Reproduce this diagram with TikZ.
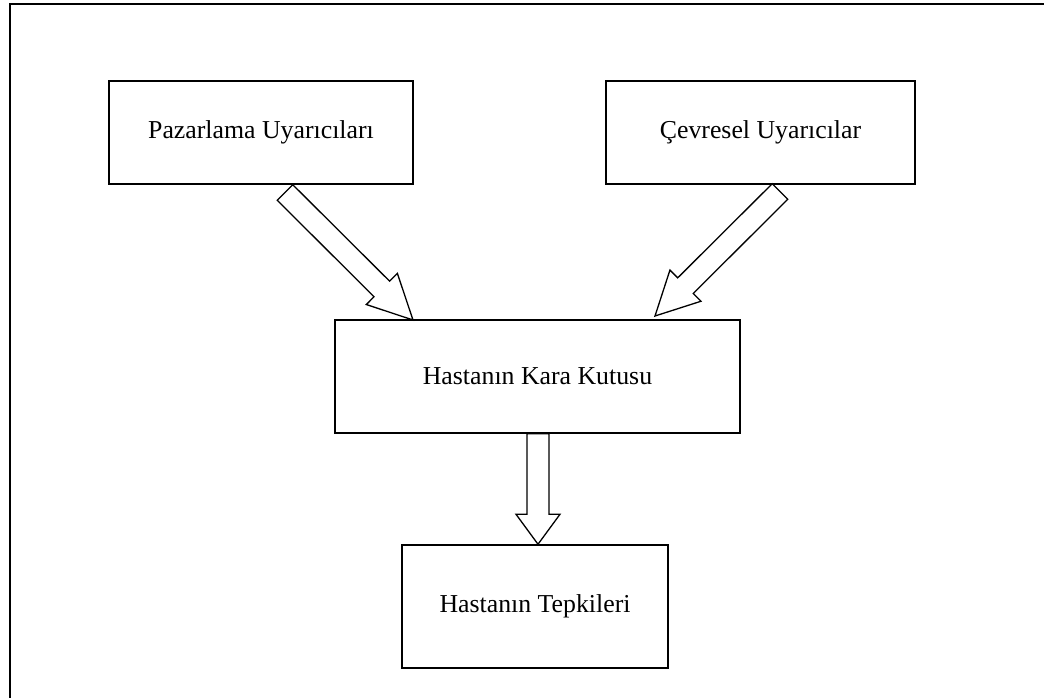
\documentclass[tikz,border=0pt]{standalone}
\usepackage{fontspec}
\setmainfont{Liberation Serif}
\usetikzlibrary{calc}

\tikzset{
  stagebox/.style={draw, line width=1.5pt, inner sep=0pt, font=\fontsize{25.8pt}{31pt}\selectfont},
  blockarrow/.style={draw, line width=1.3pt, fill=white, line join=miter},
  frameline/.style={line width=2.2pt}
}

% hollow block arrow: tail centre, tip, head length
\newcommand\hollowarrow[3]{%
  \coordinate (hb) at ($(#2)!#3!(#1)$);
  \draw[blockarrow]
    ($(#1)!11pt!90:(#2)$) -- ($(hb)!11pt!-90:(#1)$) -- ($(hb)!22pt!-90:(#1)$)
    -- (#2) -- ($(hb)!22pt!90:(#1)$) -- ($(hb)!11pt!90:(#1)$)
    -- ($(#1)!11pt!-90:(#2)$) -- cycle;}

\begin{document}
\begin{tikzpicture}[x=1pt, y=-1pt]
  \useasboundingbox (0,0) rectangle (1044,698);

  % outer frame (only top and left edges show)
  \draw[frameline] (1050,4) -- (10,4) -- (10,705);

  % stages
  \node[stagebox, minimum width=304pt, minimum height=103pt] (paz) at (261,132.5) {Pazarlama Uyarıcıları};
  \node[stagebox, minimum width=309pt, minimum height=103pt] (cev) at (760.5,132.5) {Çevresel Uyarıcılar};
  \node[stagebox, minimum width=405pt, minimum height=113pt] (kara) at (537.5,376.5) {Hastanın Kara Kutusu};
  \node[stagebox, minimum width=266pt, minimum height=123pt] (tep) at (535,606.5) {Hastanın Tepkileri};

  % arrow ends
  \coordinate (pazout) at (285,192.5);
  \coordinate (karainA) at (413,320);
  \coordinate (cevout) at (780,191.5);
  \coordinate (karainB) at (655,316);
  \coordinate (karaout) at ($(kara.south)+(0.5,0)$);
  \coordinate (tepin) at ($(tep.north)+(3,0)$);

  \hollowarrow{pazout}{karainA}{44pt}
  \hollowarrow{cevout}{karainB}{43pt}
  \hollowarrow{karaout}{tepin}{30pt}
\end{tikzpicture}
\end{document}
